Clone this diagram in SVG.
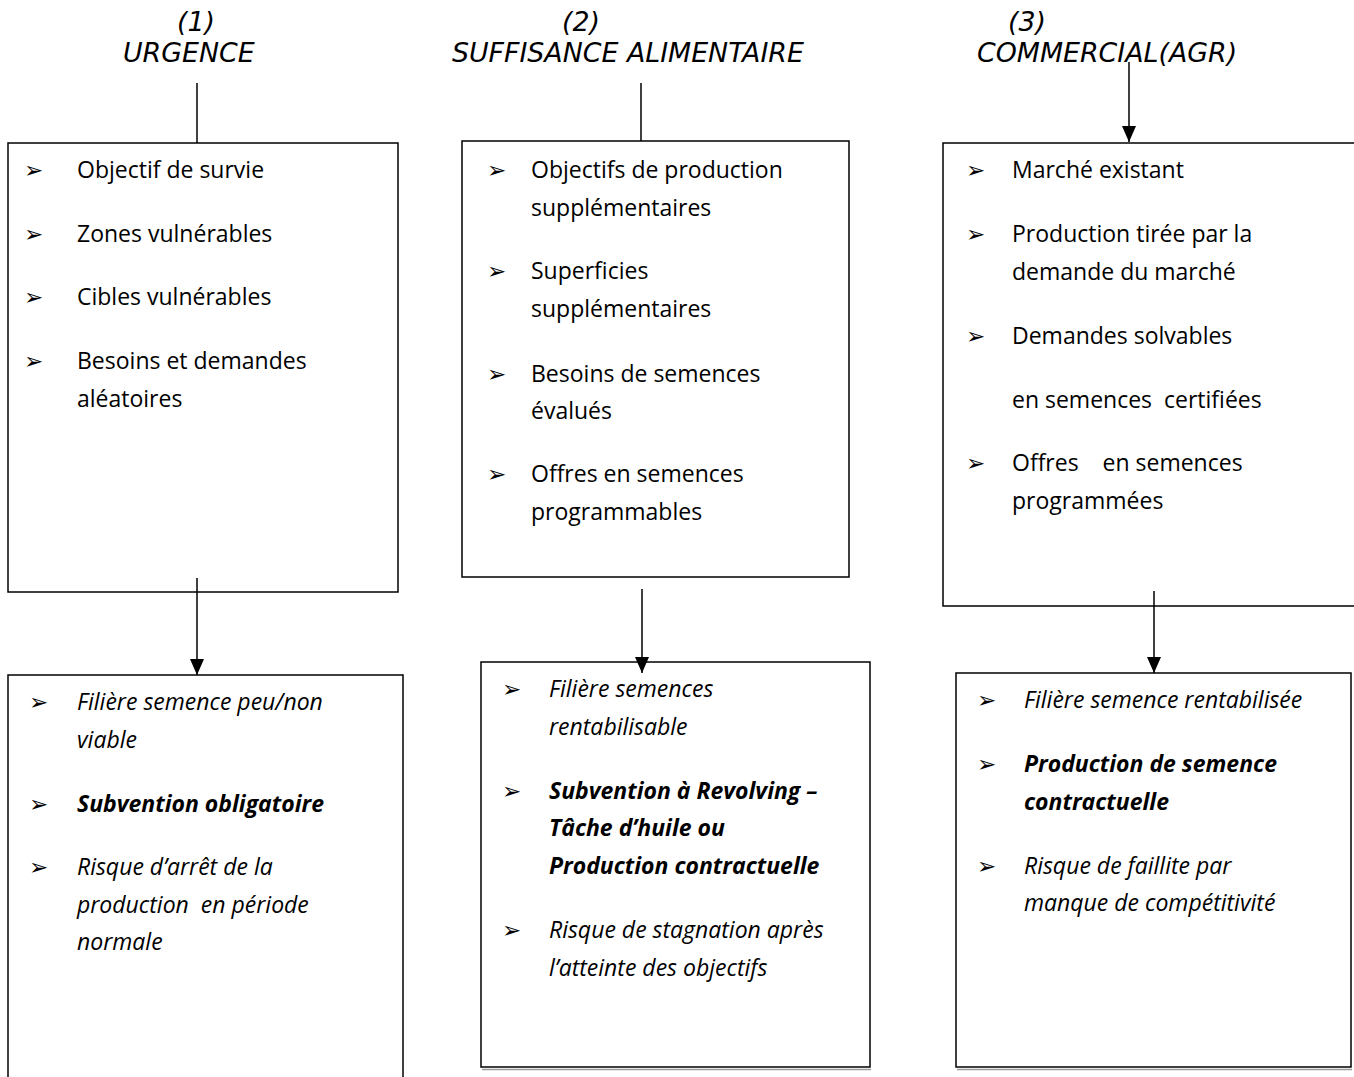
<svg xmlns="http://www.w3.org/2000/svg" width="1354" height="1077" viewBox="0 0 1354 1077">
<defs>
<style>
.box{fill:#fff;stroke:#000;stroke-width:1.5}
.hd{font-family:"DejaVu Sans",Verdana,sans-serif;font-style:italic;font-size:26.8px;fill:#000}
.t{font-family:"Open Sans","Liberation Sans",sans-serif;font-size:23px;fill:#000}
.i{font-style:italic}
.b{font-weight:bold}
.bul{font-family:"DejaVu Sans",sans-serif;font-size:23px;fill:#000}
.ln{stroke:#000;stroke-width:1.5;fill:none}
.sh{stroke:#9a9a9a;stroke-width:1.5}
</style>
<marker id="ah" viewBox="0 0 16 14" refX="16" refY="7" markerWidth="16" markerHeight="14" markerUnits="userSpaceOnUse" orient="auto">
<path d="M0,0 L16,7 L0,14 z" fill="#000"/>
</marker>
</defs>

<g id="headers">
<text class="hd" x="177" y="31">(1)</text>
<text class="hd" x="123" y="62">URGENCE</text>
<text class="hd" x="562" y="31">(2)</text>
<text class="hd" x="452" y="62">SUFFISANCE ALIMENTAIRE</text>
<text class="hd" x="1008" y="31">(3)</text>
<text class="hd" x="977" y="62">COMMERCIAL(AGR)</text>
</g>

<g id="node-urgence">
<rect class="box" x="8" y="143" width="390" height="449"/>
<g class="bul"><text x="24" y="178">➢</text><text x="24" y="242">➢</text><text x="24" y="305">➢</text><text x="24" y="369">➢</text></g>
<g class="t">
<text x="77" y="178">Objectif de survie</text>
<text x="77" y="242">Zones vulnérables</text>
<text x="77" y="305">Cibles vulnérables</text>
<text x="77" y="369">Besoins et demandes</text>
<text x="77" y="407">aléatoires</text>
</g>
</g>

<g id="node-suffisance">
<rect class="box" x="462" y="141" width="387" height="436"/>
<g class="bul"><text x="487" y="178">➢</text><text x="487" y="279">➢</text><text x="487" y="382">➢</text><text x="487" y="482">➢</text></g>
<g class="t">
<text x="531" y="178">Objectifs de production</text>
<text x="531" y="216">supplémentaires</text>
<text x="531" y="279">Superficies</text>
<text x="531" y="317">supplémentaires</text>
<text x="531" y="382">Besoins de semences</text>
<text x="531" y="419">évalués</text>
<text x="531" y="482">Offres en semences</text>
<text x="531" y="520">programmables</text>
</g>
</g>

<g id="node-commercial">
<rect class="box" x="943" y="143" width="420" height="463"/>
<g class="bul"><text x="966" y="178">➢</text><text x="966" y="242">➢</text><text x="966" y="344">➢</text><text x="966" y="471">➢</text></g>
<g class="t">
<text x="1012" y="178">Marché existant</text>
<text x="1012" y="242">Production tirée par la</text>
<text x="1012" y="280">demande du marché</text>
<text x="1012" y="344">Demandes solvables</text>
<text x="1012" y="408" xml:space="preserve">en semences  certifiées</text>
<text x="1012" y="471" xml:space="preserve">Offres    en semences</text>
<text x="1012" y="509">programmées</text>
</g>
</g>

<g id="node-urgence-result">
<rect class="box" x="8" y="675" width="395" height="420"/>
<g class="bul"><text x="29" y="710">➢</text><text x="29" y="812">➢</text><text x="29" y="875">➢</text></g>
<g class="t i">
<text x="77" y="710">Filière semence peu/non</text>
<text x="77" y="748">viable</text>
<text x="77" y="812" class="b">Subvention obligatoire</text>
<text x="77" y="875">Risque d’arrêt de la</text>
<text x="77" y="913" xml:space="preserve">production  en période</text>
<text x="77" y="950">normale</text>
</g>
</g>

<g id="node-suffisance-result">
<line class="sh" x1="482" y1="1069.5" x2="871" y2="1069.5"/>
<rect class="box" x="481" y="662" width="389" height="405"/>
<g class="bul"><text x="502" y="697">➢</text><text x="502" y="799">➢</text><text x="502" y="938">➢</text></g>
<g class="t i">
<text x="549" y="697">Filière semences</text>
<text x="549" y="735">rentabilisable</text>
<text x="549" y="799" class="b">Subvention à Revolving –</text>
<text x="549" y="836" class="b">Tâche d’huile ou</text>
<text x="549" y="874" class="b">Production contractuelle</text>
<text x="549" y="938">Risque de stagnation après</text>
<text x="549" y="976">l’atteinte des objectifs</text>
</g>
</g>

<g id="node-commercial-result">
<line class="sh" x1="957" y1="1069.5" x2="1352" y2="1069.5"/>
<rect class="box" x="956" y="673" width="395" height="394"/>
<g class="bul"><text x="977" y="708">➢</text><text x="977" y="772">➢</text><text x="977" y="874">➢</text></g>
<g class="t i">
<text x="1024" y="708">Filière semence rentabilisée</text>
<text x="1024" y="772" class="b">Production de semence</text>
<text x="1024" y="810" class="b">contractuelle</text>
<text x="1024" y="874">Risque de faillite par</text>
<text x="1024" y="911">manque de compétitivité</text>
</g>
</g>

<g id="connectors">
<line class="ln" x1="197" y1="83" x2="197" y2="143"/>
<line class="ln" x1="641" y1="83" x2="641" y2="141"/>
<line class="ln" x1="1129" y1="62" x2="1129" y2="142" marker-end="url(#ah)"/>
<line class="ln" x1="197" y1="578" x2="197" y2="675" marker-end="url(#ah)"/>
<line class="ln" x1="642" y1="589" x2="642" y2="673" marker-end="url(#ah)"/>
<line class="ln" x1="1154" y1="591" x2="1154" y2="673" marker-end="url(#ah)"/>
</g>
</svg>
